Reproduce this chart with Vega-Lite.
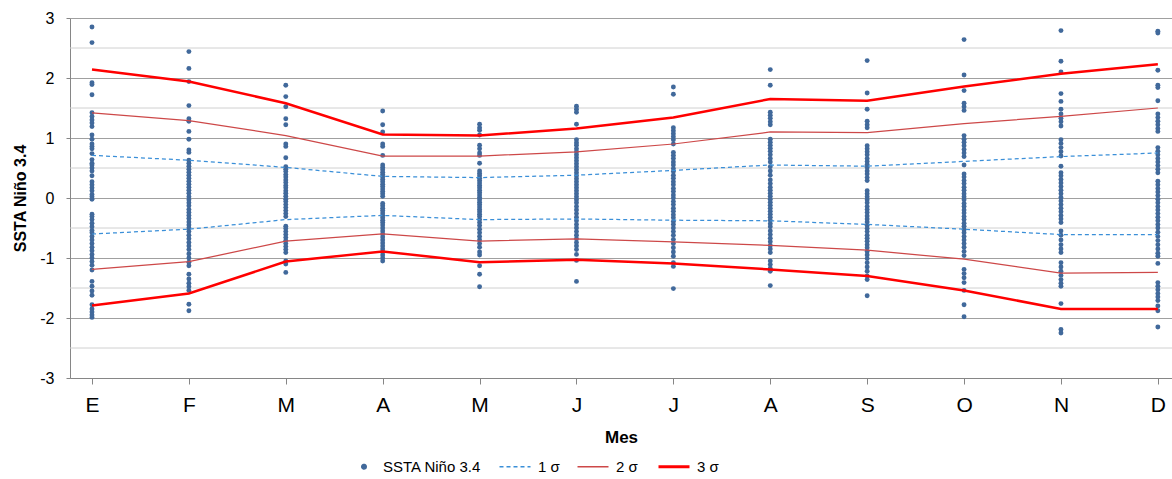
{
  "$schema": "https://vega.github.io/schema/vega-lite/v6.json",
  "width": 1102,
  "height": 360,
  "autosize": "none",
  "padding": {"left": 70, "top": 18, "right": 0, "bottom": 101},
  "background": "white",
  "config": {"view": {"stroke": null}, "font": "Liberation Sans"},
  "datasets": {
    "rejilla": [{"v":-2.5},{"v":-1.5},{"v":-0.5},{"v":0.5},{"v":1.5},{"v":2.5}],
    "puntos": [
      {"mes":1,"v":2.85},{"mes":1,"v":2.59},{"mes":1,"v":1.92},{"mes":1,"v":1.89},{"mes":1,"v":1.72},{"mes":1,"v":1.42},{"mes":1,"v":1.36},{"mes":1,"v":1.30},{"mes":1,"v":1.25},{"mes":1,"v":1.19},{"mes":1,"v":1.05},{"mes":1,"v":0.98},{"mes":1,"v":0.90},{"mes":1,"v":0.86},{"mes":1,"v":0.82},{"mes":1,"v":0.74},{"mes":1,"v":0.64},{"mes":1,"v":0.58},{"mes":1,"v":0.55},{"mes":1,"v":0.50},{"mes":1,"v":0.45},{"mes":1,"v":0.37},{"mes":1,"v":0.27},{"mes":1,"v":0.22},{"mes":1,"v":0.17},{"mes":1,"v":0.12},{"mes":1,"v":0.06},{"mes":1,"v":0.02},{"mes":1,"v":-0.02},{"mes":1,"v":-0.27},{"mes":1,"v":-0.31},{"mes":1,"v":-0.36},{"mes":1,"v":-0.42},{"mes":1,"v":-0.48},{"mes":1,"v":-0.54},{"mes":1,"v":-0.58},{"mes":1,"v":-0.64},{"mes":1,"v":-0.70},{"mes":1,"v":-0.76},{"mes":1,"v":-0.82},{"mes":1,"v":-0.88},{"mes":1,"v":-0.94},{"mes":1,"v":-1.00},{"mes":1,"v":-1.06},{"mes":1,"v":-1.12},{"mes":1,"v":-1.20},{"mes":1,"v":-1.39},{"mes":1,"v":-1.47},{"mes":1,"v":-1.55},{"mes":1,"v":-1.62},{"mes":1,"v":-1.78},{"mes":1,"v":-1.85},{"mes":1,"v":-1.90},{"mes":1,"v":-1.95},{"mes":1,"v":-1.99},
      {"mes":2,"v":2.44},{"mes":2,"v":2.16},{"mes":2,"v":1.94},{"mes":2,"v":1.54},{"mes":2,"v":1.32},{"mes":2,"v":1.28},{"mes":2,"v":1.11},{"mes":2,"v":0.98},{"mes":2,"v":0.80},{"mes":2,"v":0.76},{"mes":2,"v":0.63},{"mes":2,"v":0.58},{"mes":2,"v":0.53},{"mes":2,"v":0.48},{"mes":2,"v":0.43},{"mes":2,"v":0.38},{"mes":2,"v":0.33},{"mes":2,"v":0.28},{"mes":2,"v":0.23},{"mes":2,"v":0.18},{"mes":2,"v":0.13},{"mes":2,"v":0.08},{"mes":2,"v":0.02},{"mes":2,"v":-0.03},{"mes":2,"v":-0.08},{"mes":2,"v":-0.13},{"mes":2,"v":-0.19},{"mes":2,"v":-0.24},{"mes":2,"v":-0.29},{"mes":2,"v":-0.34},{"mes":2,"v":-0.40},{"mes":2,"v":-0.45},{"mes":2,"v":-0.50},{"mes":2,"v":-0.56},{"mes":2,"v":-0.62},{"mes":2,"v":-0.68},{"mes":2,"v":-0.74},{"mes":2,"v":-0.80},{"mes":2,"v":-0.86},{"mes":2,"v":-0.93},{"mes":2,"v":-1.00},{"mes":2,"v":-1.07},{"mes":2,"v":-1.13},{"mes":2,"v":-1.27},{"mes":2,"v":-1.35},{"mes":2,"v":-1.42},{"mes":2,"v":-1.48},{"mes":2,"v":-1.54},{"mes":2,"v":-1.77},{"mes":2,"v":-1.88},
      {"mes":3,"v":1.88},{"mes":3,"v":1.69},{"mes":3,"v":1.52},{"mes":3,"v":1.32},{"mes":3,"v":1.22},{"mes":3,"v":0.90},{"mes":3,"v":0.86},{"mes":3,"v":0.67},{"mes":3,"v":0.52},{"mes":3,"v":0.48},{"mes":3,"v":0.44},{"mes":3,"v":0.39},{"mes":3,"v":0.35},{"mes":3,"v":0.30},{"mes":3,"v":0.26},{"mes":3,"v":0.21},{"mes":3,"v":0.17},{"mes":3,"v":0.12},{"mes":3,"v":0.08},{"mes":3,"v":0.03},{"mes":3,"v":-0.02},{"mes":3,"v":-0.06},{"mes":3,"v":-0.11},{"mes":3,"v":-0.16},{"mes":3,"v":-0.21},{"mes":3,"v":-0.26},{"mes":3,"v":-0.31},{"mes":3,"v":-0.47},{"mes":3,"v":-0.51},{"mes":3,"v":-0.56},{"mes":3,"v":-0.61},{"mes":3,"v":-0.66},{"mes":3,"v":-0.71},{"mes":3,"v":-0.76},{"mes":3,"v":-0.81},{"mes":3,"v":-0.86},{"mes":3,"v":-0.91},{"mes":3,"v":-1.05},{"mes":3,"v":-1.10},{"mes":3,"v":-1.24},
      {"mes":4,"v":1.45},{"mes":4,"v":1.22},{"mes":4,"v":1.10},{"mes":4,"v":0.90},{"mes":4,"v":0.86},{"mes":4,"v":0.71},{"mes":4,"v":0.55},{"mes":4,"v":0.51},{"mes":4,"v":0.47},{"mes":4,"v":0.43},{"mes":4,"v":0.39},{"mes":4,"v":0.35},{"mes":4,"v":0.31},{"mes":4,"v":0.27},{"mes":4,"v":0.23},{"mes":4,"v":0.19},{"mes":4,"v":0.15},{"mes":4,"v":0.11},{"mes":4,"v":0.07},{"mes":4,"v":0.03},{"mes":4,"v":-0.09},{"mes":4,"v":-0.13},{"mes":4,"v":-0.17},{"mes":4,"v":-0.21},{"mes":4,"v":-0.25},{"mes":4,"v":-0.29},{"mes":4,"v":-0.33},{"mes":4,"v":-0.37},{"mes":4,"v":-0.41},{"mes":4,"v":-0.45},{"mes":4,"v":-0.50},{"mes":4,"v":-0.55},{"mes":4,"v":-0.60},{"mes":4,"v":-0.65},{"mes":4,"v":-0.70},{"mes":4,"v":-0.75},{"mes":4,"v":-0.80},{"mes":4,"v":-0.85},{"mes":4,"v":-0.90},{"mes":4,"v":-0.95},{"mes":4,"v":-1.00},{"mes":4,"v":-1.05},
      {"mes":5,"v":1.23},{"mes":5,"v":1.17},{"mes":5,"v":1.13},{"mes":5,"v":1.05},{"mes":5,"v":0.88},{"mes":5,"v":0.82},{"mes":5,"v":0.75},{"mes":5,"v":0.71},{"mes":5,"v":0.58},{"mes":5,"v":0.45},{"mes":5,"v":0.41},{"mes":5,"v":0.37},{"mes":5,"v":0.33},{"mes":5,"v":0.29},{"mes":5,"v":0.25},{"mes":5,"v":0.21},{"mes":5,"v":0.17},{"mes":5,"v":0.13},{"mes":5,"v":0.09},{"mes":5,"v":0.05},{"mes":5,"v":0.01},{"mes":5,"v":-0.03},{"mes":5,"v":-0.07},{"mes":5,"v":-0.11},{"mes":5,"v":-0.15},{"mes":5,"v":-0.19},{"mes":5,"v":-0.23},{"mes":5,"v":-0.27},{"mes":5,"v":-0.31},{"mes":5,"v":-0.36},{"mes":5,"v":-0.41},{"mes":5,"v":-0.46},{"mes":5,"v":-0.52},{"mes":5,"v":-0.58},{"mes":5,"v":-0.64},{"mes":5,"v":-0.70},{"mes":5,"v":-0.76},{"mes":5,"v":-0.82},{"mes":5,"v":-0.90},{"mes":5,"v":-0.95},{"mes":5,"v":-1.13},{"mes":5,"v":-1.27},{"mes":5,"v":-1.48},
      {"mes":6,"v":1.53},{"mes":6,"v":1.48},{"mes":6,"v":1.43},{"mes":6,"v":1.23},{"mes":6,"v":0.97},{"mes":6,"v":0.92},{"mes":6,"v":0.88},{"mes":6,"v":0.82},{"mes":6,"v":0.77},{"mes":6,"v":0.72},{"mes":6,"v":0.67},{"mes":6,"v":0.62},{"mes":6,"v":0.57},{"mes":6,"v":0.52},{"mes":6,"v":0.47},{"mes":6,"v":0.42},{"mes":6,"v":0.37},{"mes":6,"v":0.32},{"mes":6,"v":0.27},{"mes":6,"v":0.22},{"mes":6,"v":0.17},{"mes":6,"v":0.12},{"mes":6,"v":0.07},{"mes":6,"v":0.02},{"mes":6,"v":-0.03},{"mes":6,"v":-0.08},{"mes":6,"v":-0.14},{"mes":6,"v":-0.20},{"mes":6,"v":-0.26},{"mes":6,"v":-0.32},{"mes":6,"v":-0.38},{"mes":6,"v":-0.44},{"mes":6,"v":-0.50},{"mes":6,"v":-0.56},{"mes":6,"v":-0.62},{"mes":6,"v":-0.68},{"mes":6,"v":-0.74},{"mes":6,"v":-0.80},{"mes":6,"v":-0.86},{"mes":6,"v":-0.94},{"mes":6,"v":-1.04},{"mes":6,"v":-1.39},
      {"mes":7,"v":1.85},{"mes":7,"v":1.73},{"mes":7,"v":1.17},{"mes":7,"v":1.12},{"mes":7,"v":1.07},{"mes":7,"v":1.02},{"mes":7,"v":0.97},{"mes":7,"v":0.90},{"mes":7,"v":0.76},{"mes":7,"v":0.71},{"mes":7,"v":0.66},{"mes":7,"v":0.60},{"mes":7,"v":0.55},{"mes":7,"v":0.49},{"mes":7,"v":0.44},{"mes":7,"v":0.38},{"mes":7,"v":0.33},{"mes":7,"v":0.27},{"mes":7,"v":0.22},{"mes":7,"v":0.16},{"mes":7,"v":0.11},{"mes":7,"v":0.05},{"mes":7,"v":0.00},{"mes":7,"v":-0.06},{"mes":7,"v":-0.11},{"mes":7,"v":-0.17},{"mes":7,"v":-0.22},{"mes":7,"v":-0.28},{"mes":7,"v":-0.33},{"mes":7,"v":-0.39},{"mes":7,"v":-0.44},{"mes":7,"v":-0.50},{"mes":7,"v":-0.56},{"mes":7,"v":-0.62},{"mes":7,"v":-0.69},{"mes":7,"v":-0.76},{"mes":7,"v":-0.83},{"mes":7,"v":-0.90},{"mes":7,"v":-0.97},{"mes":7,"v":-1.08},{"mes":7,"v":-1.14},{"mes":7,"v":-1.51},
      {"mes":8,"v":2.14},{"mes":8,"v":1.88},{"mes":8,"v":1.43},{"mes":8,"v":1.38},{"mes":8,"v":1.33},{"mes":8,"v":1.27},{"mes":8,"v":1.22},{"mes":8,"v":0.98},{"mes":8,"v":0.93},{"mes":8,"v":0.88},{"mes":8,"v":0.83},{"mes":8,"v":0.78},{"mes":8,"v":0.72},{"mes":8,"v":0.66},{"mes":8,"v":0.60},{"mes":8,"v":0.52},{"mes":8,"v":0.45},{"mes":8,"v":0.38},{"mes":8,"v":0.30},{"mes":8,"v":0.24},{"mes":8,"v":0.18},{"mes":8,"v":0.13},{"mes":8,"v":0.08},{"mes":8,"v":0.03},{"mes":8,"v":-0.02},{"mes":8,"v":-0.07},{"mes":8,"v":-0.12},{"mes":8,"v":-0.17},{"mes":8,"v":-0.22},{"mes":8,"v":-0.27},{"mes":8,"v":-0.32},{"mes":8,"v":-0.37},{"mes":8,"v":-0.43},{"mes":8,"v":-0.48},{"mes":8,"v":-0.55},{"mes":8,"v":-0.61},{"mes":8,"v":-0.67},{"mes":8,"v":-0.73},{"mes":8,"v":-0.79},{"mes":8,"v":-0.85},{"mes":8,"v":-0.91},{"mes":8,"v":-1.05},{"mes":8,"v":-1.11},{"mes":8,"v":-1.17},{"mes":8,"v":-1.22},{"mes":8,"v":-1.46},
      {"mes":9,"v":2.29},{"mes":9,"v":1.75},{"mes":9,"v":1.48},{"mes":9,"v":1.28},{"mes":9,"v":1.22},{"mes":9,"v":1.17},{"mes":9,"v":0.87},{"mes":9,"v":0.82},{"mes":9,"v":0.77},{"mes":9,"v":0.72},{"mes":9,"v":0.66},{"mes":9,"v":0.61},{"mes":9,"v":0.56},{"mes":9,"v":0.51},{"mes":9,"v":0.45},{"mes":9,"v":0.40},{"mes":9,"v":0.34},{"mes":9,"v":0.29},{"mes":9,"v":0.12},{"mes":9,"v":0.07},{"mes":9,"v":0.02},{"mes":9,"v":-0.03},{"mes":9,"v":-0.08},{"mes":9,"v":-0.14},{"mes":9,"v":-0.19},{"mes":9,"v":-0.24},{"mes":9,"v":-0.30},{"mes":9,"v":-0.35},{"mes":9,"v":-0.40},{"mes":9,"v":-0.46},{"mes":9,"v":-0.51},{"mes":9,"v":-0.56},{"mes":9,"v":-0.62},{"mes":9,"v":-0.67},{"mes":9,"v":-0.72},{"mes":9,"v":-0.78},{"mes":9,"v":-0.83},{"mes":9,"v":-0.89},{"mes":9,"v":-0.95},{"mes":9,"v":-1.01},{"mes":9,"v":-1.08},{"mes":9,"v":-1.15},{"mes":9,"v":-1.22},{"mes":9,"v":-1.30},{"mes":9,"v":-1.36},{"mes":9,"v":-1.63},
      {"mes":10,"v":2.64},{"mes":10,"v":2.05},{"mes":10,"v":1.79},{"mes":10,"v":1.58},{"mes":10,"v":1.52},{"mes":10,"v":1.46},{"mes":10,"v":1.04},{"mes":10,"v":0.98},{"mes":10,"v":0.93},{"mes":10,"v":0.87},{"mes":10,"v":0.81},{"mes":10,"v":0.75},{"mes":10,"v":0.69},{"mes":10,"v":0.55},{"mes":10,"v":0.40},{"mes":10,"v":0.35},{"mes":10,"v":0.29},{"mes":10,"v":0.24},{"mes":10,"v":0.18},{"mes":10,"v":0.13},{"mes":10,"v":0.07},{"mes":10,"v":0.02},{"mes":10,"v":-0.03},{"mes":10,"v":-0.09},{"mes":10,"v":-0.14},{"mes":10,"v":-0.20},{"mes":10,"v":-0.25},{"mes":10,"v":-0.31},{"mes":10,"v":-0.36},{"mes":10,"v":-0.42},{"mes":10,"v":-0.47},{"mes":10,"v":-0.53},{"mes":10,"v":-0.58},{"mes":10,"v":-0.64},{"mes":10,"v":-0.70},{"mes":10,"v":-0.76},{"mes":10,"v":-0.82},{"mes":10,"v":-0.89},{"mes":10,"v":-0.96},{"mes":10,"v":-1.19},{"mes":10,"v":-1.26},{"mes":10,"v":-1.33},{"mes":10,"v":-1.41},{"mes":10,"v":-1.54},{"mes":10,"v":-1.78},{"mes":10,"v":-1.98},
      {"mes":11,"v":2.79},{"mes":11,"v":2.28},{"mes":11,"v":2.10},{"mes":11,"v":1.74},{"mes":11,"v":1.61},{"mes":11,"v":1.48},{"mes":11,"v":1.40},{"mes":11,"v":1.33},{"mes":11,"v":1.27},{"mes":11,"v":1.20},{"mes":11,"v":0.97},{"mes":11,"v":0.91},{"mes":11,"v":0.84},{"mes":11,"v":0.77},{"mes":11,"v":0.70},{"mes":11,"v":0.53},{"mes":11,"v":0.42},{"mes":11,"v":0.37},{"mes":11,"v":0.31},{"mes":11,"v":0.25},{"mes":11,"v":0.19},{"mes":11,"v":0.13},{"mes":11,"v":0.07},{"mes":11,"v":0.01},{"mes":11,"v":-0.05},{"mes":11,"v":-0.11},{"mes":11,"v":-0.17},{"mes":11,"v":-0.23},{"mes":11,"v":-0.29},{"mes":11,"v":-0.35},{"mes":11,"v":-0.41},{"mes":11,"v":-0.55},{"mes":11,"v":-0.62},{"mes":11,"v":-0.70},{"mes":11,"v":-0.78},{"mes":11,"v":-0.85},{"mes":11,"v":-0.91},{"mes":11,"v":-1.08},{"mes":11,"v":-1.15},{"mes":11,"v":-1.22},{"mes":11,"v":-1.29},{"mes":11,"v":-1.36},{"mes":11,"v":-1.42},{"mes":11,"v":-1.47},{"mes":11,"v":-1.76},{"mes":11,"v":-2.19},{"mes":11,"v":-2.25},
      {"mes":12,"v":2.78},{"mes":12,"v":2.75},{"mes":12,"v":2.13},{"mes":12,"v":1.88},{"mes":12,"v":1.84},{"mes":12,"v":1.62},{"mes":12,"v":1.40},{"mes":12,"v":1.34},{"mes":12,"v":1.28},{"mes":12,"v":1.22},{"mes":12,"v":1.16},{"mes":12,"v":1.11},{"mes":12,"v":0.84},{"mes":12,"v":0.78},{"mes":12,"v":0.72},{"mes":12,"v":0.66},{"mes":12,"v":0.60},{"mes":12,"v":0.54},{"mes":12,"v":0.48},{"mes":12,"v":0.42},{"mes":12,"v":0.28},{"mes":12,"v":0.22},{"mes":12,"v":0.16},{"mes":12,"v":0.10},{"mes":12,"v":0.04},{"mes":12,"v":-0.02},{"mes":12,"v":-0.08},{"mes":12,"v":-0.14},{"mes":12,"v":-0.20},{"mes":12,"v":-0.26},{"mes":12,"v":-0.32},{"mes":12,"v":-0.38},{"mes":12,"v":-0.44},{"mes":12,"v":-0.50},{"mes":12,"v":-0.57},{"mes":12,"v":-0.64},{"mes":12,"v":-0.71},{"mes":12,"v":-0.78},{"mes":12,"v":-0.85},{"mes":12,"v":-0.92},{"mes":12,"v":-0.97},{"mes":12,"v":-1.09},{"mes":12,"v":-1.41},{"mes":12,"v":-1.47},{"mes":12,"v":-1.53},{"mes":12,"v":-1.59},{"mes":12,"v":-1.65},{"mes":12,"v":-1.71},{"mes":12,"v":-1.80},{"mes":12,"v":-1.88},{"mes":12,"v":-2.15}
    ],
    "sigma": [
      {"mes":1,"serie":"3 σ","lado":"sup","v":2.14},{"mes":1,"serie":"2 σ","lado":"sup","v":1.42},{"mes":1,"serie":"1 σ","lado":"sup","v":0.71},{"mes":1,"serie":"1 σ","lado":"inf","v":-0.60},{"mes":1,"serie":"2 σ","lado":"inf","v":-1.19},{"mes":1,"serie":"3 σ","lado":"inf","v":-1.79},
      {"mes":2,"serie":"3 σ","lado":"sup","v":1.94},{"mes":2,"serie":"2 σ","lado":"sup","v":1.29},{"mes":2,"serie":"1 σ","lado":"sup","v":0.63},{"mes":2,"serie":"1 σ","lado":"inf","v":-0.52},{"mes":2,"serie":"2 σ","lado":"inf","v":-1.06},{"mes":2,"serie":"3 σ","lado":"inf","v":-1.59},
      {"mes":3,"serie":"3 σ","lado":"sup","v":1.58},{"mes":3,"serie":"2 σ","lado":"sup","v":1.04},{"mes":3,"serie":"1 σ","lado":"sup","v":0.51},{"mes":3,"serie":"1 σ","lado":"inf","v":-0.36},{"mes":3,"serie":"2 σ","lado":"inf","v":-0.72},{"mes":3,"serie":"3 σ","lado":"inf","v":-1.06},
      {"mes":4,"serie":"3 σ","lado":"sup","v":1.06},{"mes":4,"serie":"2 σ","lado":"sup","v":0.70},{"mes":4,"serie":"1 σ","lado":"sup","v":0.36},{"mes":4,"serie":"1 σ","lado":"inf","v":-0.29},{"mes":4,"serie":"2 σ","lado":"inf","v":-0.60},{"mes":4,"serie":"3 σ","lado":"inf","v":-0.89},
      {"mes":5,"serie":"3 σ","lado":"sup","v":1.04},{"mes":5,"serie":"2 σ","lado":"sup","v":0.70},{"mes":5,"serie":"1 σ","lado":"sup","v":0.34},{"mes":5,"serie":"1 σ","lado":"inf","v":-0.36},{"mes":5,"serie":"2 σ","lado":"inf","v":-0.72},{"mes":5,"serie":"3 σ","lado":"inf","v":-1.07},
      {"mes":6,"serie":"3 σ","lado":"sup","v":1.16},{"mes":6,"serie":"2 σ","lado":"sup","v":0.77},{"mes":6,"serie":"1 σ","lado":"sup","v":0.38},{"mes":6,"serie":"1 σ","lado":"inf","v":-0.35},{"mes":6,"serie":"2 σ","lado":"inf","v":-0.68},{"mes":6,"serie":"3 σ","lado":"inf","v":-1.03},
      {"mes":7,"serie":"3 σ","lado":"sup","v":1.34},{"mes":7,"serie":"2 σ","lado":"sup","v":0.90},{"mes":7,"serie":"1 σ","lado":"sup","v":0.46},{"mes":7,"serie":"1 σ","lado":"inf","v":-0.37},{"mes":7,"serie":"2 σ","lado":"inf","v":-0.73},{"mes":7,"serie":"3 σ","lado":"inf","v":-1.09},
      {"mes":8,"serie":"3 σ","lado":"sup","v":1.65},{"mes":8,"serie":"2 σ","lado":"sup","v":1.10},{"mes":8,"serie":"1 σ","lado":"sup","v":0.55},{"mes":8,"serie":"1 σ","lado":"inf","v":-0.38},{"mes":8,"serie":"2 σ","lado":"inf","v":-0.79},{"mes":8,"serie":"3 σ","lado":"inf","v":-1.19},
      {"mes":9,"serie":"3 σ","lado":"sup","v":1.62},{"mes":9,"serie":"2 σ","lado":"sup","v":1.09},{"mes":9,"serie":"1 σ","lado":"sup","v":0.53},{"mes":9,"serie":"1 σ","lado":"inf","v":-0.44},{"mes":9,"serie":"2 σ","lado":"inf","v":-0.87},{"mes":9,"serie":"3 σ","lado":"inf","v":-1.30},
      {"mes":10,"serie":"3 σ","lado":"sup","v":1.86},{"mes":10,"serie":"2 σ","lado":"sup","v":1.24},{"mes":10,"serie":"1 σ","lado":"sup","v":0.61},{"mes":10,"serie":"1 σ","lado":"inf","v":-0.52},{"mes":10,"serie":"2 σ","lado":"inf","v":-1.02},{"mes":10,"serie":"3 σ","lado":"inf","v":-1.54},
      {"mes":11,"serie":"3 σ","lado":"sup","v":2.07},{"mes":11,"serie":"2 σ","lado":"sup","v":1.36},{"mes":11,"serie":"1 σ","lado":"sup","v":0.69},{"mes":11,"serie":"1 σ","lado":"inf","v":-0.61},{"mes":11,"serie":"2 σ","lado":"inf","v":-1.25},{"mes":11,"serie":"3 σ","lado":"inf","v":-1.85},
      {"mes":12,"serie":"3 σ","lado":"sup","v":2.23},{"mes":12,"serie":"2 σ","lado":"sup","v":1.50},{"mes":12,"serie":"1 σ","lado":"sup","v":0.75},{"mes":12,"serie":"1 σ","lado":"inf","v":-0.61},{"mes":12,"serie":"2 σ","lado":"inf","v":-1.24},{"mes":12,"serie":"3 σ","lado":"inf","v":-1.85}
    ]
  },
  "layer": [
    {
      "data": {"name": "rejilla"},
      "mark": {"type": "rule", "color": "#d0d0d0", "strokeWidth": 1},
      "encoding": {
        "y": {"field": "v", "type": "quantitative"}
      }
    },
    {
      "data": {"name": "puntos"},
      "mark": {"type": "circle", "size": 24, "opacity": 1},
      "encoding": {
        "x": {
          "field": "mes", "type": "quantitative",
          "scale": {"domain": [0.773, 12.146], "nice": false, "zero": false},
          "axis": {
            "title": "Mes",
            "values": [1,2,3,4,5,6,7,8,9,10,11,12],
            "labelExpr": "['E','F','M','A','M','J','J','A','S','O','N','D'][datum.value - 1]",
            "grid": false,
            "domainColor": "#868686",
            "tickColor": "#868686",
            "tickSize": 6,
            "labelFont": "Liberation Sans",
            "labelFontSize": 21,
            "labelColor": "#000000",
            "labelPadding": 10,
            "titleFont": "Liberation Sans",
            "titleFontSize": 17,
            "titleFontWeight": "bold",
            "titleColor": "#000000",
            "titlePadding": 14
          }
        },
        "y": {
          "field": "v", "type": "quantitative",
          "scale": {"domain": [-3, 3], "nice": false, "zero": false},
          "axis": {
            "title": "SSTA Niño 3.4",
            "values": [-3,-2,-1,0,1,2,3],
            "labelExpr": "datum.value < 0 ? '-' + abs(datum.value) : '' + datum.value",
            "grid": true,
            "gridColor": "#a0a0a0",
            "tickColor": "#868686",
            "tickSize": 4,
            "domainColor": "#868686",
            "labelFont": "Liberation Sans",
            "labelFontSize": 16,
            "labelColor": "#000000",
            "labelPadding": 12,
            "titleFont": "Liberation Sans",
            "titleFontSize": 16,
            "titleFontWeight": "bold",
            "titleColor": "#000000",
            "titlePadding": 11
          }
        },
        "color": {
          "datum": "SSTA Niño 3.4", "type": "nominal",
          "scale": {"domain": ["SSTA Niño 3.4", "1 σ", "2 σ", "3 σ"], "range": ["#41699b", "#3a8fd8", "#cd4848", "#ff0000"]},
          "legend": {
            "orient": "none", "legendX": 274, "legendY": 441, "direction": "horizontal", "title": null,
            "symbolSize": 961, "labelFont": "Liberation Sans", "labelFontSize": 15, "labelColor": "#000000",
            "labelOffset": 24, "columnPadding": 14, "padding": 0,
            "encode": {"symbols": {"update": {
              "x": {"signal": "datum.value === 'SSTA Niño 3.4' ? 20 : 16"},
              "shape": {"signal": "datum.value === 'SSTA Niño 3.4' ? 'circle' : 'stroke'"},
              "size": {"signal": "datum.value === 'SSTA Niño 3.4' ? 20 : 961"},
              "fill": {"signal": "datum.value === 'SSTA Niño 3.4' ? '#41699b' : 'transparent'"},
              "stroke": {"signal": "datum.value === '1 σ' ? '#3a8fd8' : datum.value === '2 σ' ? '#cd4848' : datum.value === '3 σ' ? '#ff0000' : 'transparent'"},
              "strokeWidth": {"signal": "datum.value === '3 σ' ? 3 : 1.5"},
              "strokeDash": {"signal": "datum.value === '1 σ' ? [4, 3] : [1, 0]"},
              "opacity": {"value": 1}
            }}}
          }
        }
      }
    },
    {
      "data": {"name": "sigma"},
      "transform": [{"filter": "datum.serie === '1 σ'"}],
      "mark": {"type": "line", "strokeDash": [4, 3], "strokeWidth": 1.25},
      "encoding": {
        "x": {"field": "mes", "type": "quantitative"},
        "y": {"field": "v", "type": "quantitative"},
        "detail": {"field": "lado", "type": "nominal"},
        "color": {
          "field": "serie", "type": "nominal",
          "legend": {
            "orient": "none", "legendX": 274, "legendY": 441, "direction": "horizontal", "title": null,
            "symbolSize": 961, "labelFont": "Liberation Sans", "labelFontSize": 15, "labelColor": "#000000",
            "labelOffset": 24, "columnPadding": 14, "padding": 0,
            "encode": {"symbols": {"update": {
              "x": {"signal": "datum.value === 'SSTA Niño 3.4' ? 20 : 16"},
              "shape": {"signal": "datum.value === 'SSTA Niño 3.4' ? 'circle' : 'stroke'"},
              "size": {"signal": "datum.value === 'SSTA Niño 3.4' ? 20 : 961"},
              "fill": {"signal": "datum.value === 'SSTA Niño 3.4' ? '#41699b' : 'transparent'"},
              "stroke": {"signal": "datum.value === '1 σ' ? '#3a8fd8' : datum.value === '2 σ' ? '#cd4848' : datum.value === '3 σ' ? '#ff0000' : 'transparent'"},
              "strokeWidth": {"signal": "datum.value === '3 σ' ? 3 : 1.5"},
              "strokeDash": {"signal": "datum.value === '1 σ' ? [4, 3] : [1, 0]"},
              "opacity": {"value": 1}
            }}}
          }
        }
      }
    },
    {
      "data": {"name": "sigma"},
      "transform": [{"filter": "datum.serie === '2 σ'"}],
      "mark": {"type": "line", "strokeWidth": 1.25},
      "encoding": {
        "x": {"field": "mes", "type": "quantitative"},
        "y": {"field": "v", "type": "quantitative"},
        "detail": {"field": "lado", "type": "nominal"},
        "color": {
          "field": "serie", "type": "nominal",
          "legend": {
            "orient": "none", "legendX": 274, "legendY": 441, "direction": "horizontal", "title": null,
            "symbolSize": 961, "labelFont": "Liberation Sans", "labelFontSize": 15, "labelColor": "#000000",
            "labelOffset": 24, "columnPadding": 14, "padding": 0,
            "encode": {"symbols": {"update": {
              "x": {"signal": "datum.value === 'SSTA Niño 3.4' ? 20 : 16"},
              "shape": {"signal": "datum.value === 'SSTA Niño 3.4' ? 'circle' : 'stroke'"},
              "size": {"signal": "datum.value === 'SSTA Niño 3.4' ? 20 : 961"},
              "fill": {"signal": "datum.value === 'SSTA Niño 3.4' ? '#41699b' : 'transparent'"},
              "stroke": {"signal": "datum.value === '1 σ' ? '#3a8fd8' : datum.value === '2 σ' ? '#cd4848' : datum.value === '3 σ' ? '#ff0000' : 'transparent'"},
              "strokeWidth": {"signal": "datum.value === '3 σ' ? 3 : 1.5"},
              "strokeDash": {"signal": "datum.value === '1 σ' ? [4, 3] : [1, 0]"},
              "opacity": {"value": 1}
            }}}
          }
        }
      }
    },
    {
      "data": {"name": "sigma"},
      "transform": [{"filter": "datum.serie === '3 σ'"}],
      "mark": {"type": "line", "strokeWidth": 2.5},
      "encoding": {
        "x": {"field": "mes", "type": "quantitative"},
        "y": {"field": "v", "type": "quantitative"},
        "detail": {"field": "lado", "type": "nominal"},
        "color": {
          "field": "serie", "type": "nominal",
          "legend": {
            "orient": "none", "legendX": 274, "legendY": 441, "direction": "horizontal", "title": null,
            "symbolSize": 961, "labelFont": "Liberation Sans", "labelFontSize": 15, "labelColor": "#000000",
            "labelOffset": 24, "columnPadding": 14, "padding": 0,
            "encode": {"symbols": {"update": {
              "x": {"signal": "datum.value === 'SSTA Niño 3.4' ? 20 : 16"},
              "shape": {"signal": "datum.value === 'SSTA Niño 3.4' ? 'circle' : 'stroke'"},
              "size": {"signal": "datum.value === 'SSTA Niño 3.4' ? 20 : 961"},
              "fill": {"signal": "datum.value === 'SSTA Niño 3.4' ? '#41699b' : 'transparent'"},
              "stroke": {"signal": "datum.value === '1 σ' ? '#3a8fd8' : datum.value === '2 σ' ? '#cd4848' : datum.value === '3 σ' ? '#ff0000' : 'transparent'"},
              "strokeWidth": {"signal": "datum.value === '3 σ' ? 3 : 1.5"},
              "strokeDash": {"signal": "datum.value === '1 σ' ? [4, 3] : [1, 0]"},
              "opacity": {"value": 1}
            }}}
          }
        }
      }
    }
  ]
}
